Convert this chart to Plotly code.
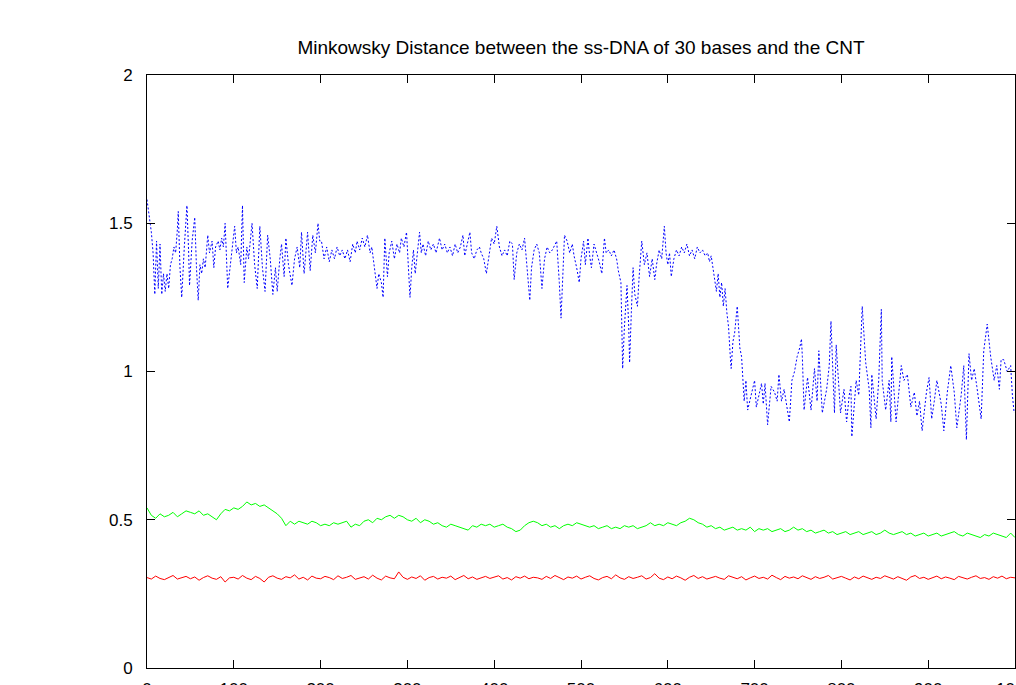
import plotly.graph_objects as go

# ---------------- data ----------------
title_text = "Minkowsky Distance between the ss-DNA of 30 bases and the CNT"

step_x = list(range(0, 1001, 5))

red_vals = [
    0.305, 0.300, 0.310, 0.302, 0.298, 0.306, 0.312, 0.300, 0.304, 0.309,
    0.301, 0.307, 0.296, 0.305, 0.311, 0.303, 0.299, 0.308, 0.290, 0.304,
    0.306, 0.300, 0.312, 0.303, 0.298, 0.309, 0.302, 0.290, 0.306, 0.311,
    0.303, 0.299, 0.308, 0.304, 0.314, 0.300, 0.306, 0.297, 0.310, 0.303,
    0.301, 0.309, 0.305, 0.298, 0.311, 0.302, 0.306, 0.312, 0.299, 0.304,
    0.308, 0.300, 0.313, 0.303, 0.297, 0.310, 0.304, 0.301, 0.324, 0.306,
    0.299, 0.307, 0.302, 0.311, 0.296, 0.305, 0.309, 0.300, 0.306, 0.303,
    0.310, 0.298, 0.305, 0.312, 0.301, 0.307, 0.299, 0.304, 0.309, 0.302,
    0.306, 0.311, 0.300, 0.305, 0.297, 0.308, 0.303, 0.310, 0.301, 0.306,
    0.304, 0.299, 0.309, 0.302, 0.312, 0.305, 0.298, 0.307, 0.303, 0.310,
    0.300, 0.306, 0.311, 0.302, 0.297, 0.305, 0.309, 0.301, 0.314, 0.304,
    0.299, 0.308, 0.302, 0.306, 0.311, 0.300, 0.305, 0.318, 0.303, 0.298,
    0.307, 0.301, 0.310, 0.304, 0.296, 0.306, 0.312, 0.302, 0.308, 0.300,
    0.305, 0.309, 0.303, 0.299, 0.311, 0.306, 0.301, 0.308, 0.297, 0.304,
    0.310, 0.302, 0.306, 0.300, 0.313, 0.305, 0.298, 0.309, 0.303, 0.307,
    0.301, 0.311, 0.304, 0.299, 0.308, 0.302, 0.306, 0.312, 0.300, 0.305,
    0.309, 0.303, 0.297, 0.307, 0.301, 0.310, 0.304, 0.299, 0.306, 0.302,
    0.311, 0.305, 0.300, 0.308, 0.303, 0.296, 0.307, 0.312, 0.302, 0.306,
    0.299, 0.305, 0.310, 0.301, 0.307, 0.303, 0.298, 0.309, 0.304, 0.300,
    0.306, 0.311, 0.302, 0.305, 0.299, 0.308, 0.303, 0.310, 0.301, 0.306,
    0.304,
]

green_vals = [
    0.540, 0.515, 0.505, 0.520, 0.510, 0.515, 0.525, 0.510, 0.520, 0.530,
    0.525, 0.520, 0.530, 0.515, 0.520, 0.510, 0.500, 0.520, 0.535, 0.530,
    0.540, 0.535, 0.545, 0.560, 0.550, 0.555, 0.545, 0.550, 0.540, 0.530,
    0.520, 0.505, 0.480, 0.495, 0.485, 0.495, 0.490, 0.485, 0.495, 0.490,
    0.480, 0.485, 0.480, 0.490, 0.485, 0.490, 0.495, 0.475, 0.485, 0.480,
    0.495, 0.500, 0.490, 0.505, 0.500, 0.510, 0.515, 0.505, 0.515, 0.510,
    0.500, 0.495, 0.505, 0.490, 0.500, 0.495, 0.485, 0.490, 0.480, 0.475,
    0.485, 0.480, 0.475, 0.470, 0.465, 0.480, 0.475, 0.485, 0.480, 0.485,
    0.475, 0.480, 0.485, 0.475, 0.470, 0.460, 0.465, 0.480, 0.490, 0.495,
    0.490, 0.480, 0.485, 0.475, 0.480, 0.470, 0.480, 0.485, 0.480, 0.490,
    0.485, 0.480, 0.475, 0.480, 0.470, 0.475, 0.480, 0.470, 0.475, 0.470,
    0.480, 0.475, 0.480, 0.470, 0.475, 0.480, 0.490, 0.480, 0.485, 0.480,
    0.490, 0.485, 0.480, 0.490, 0.495, 0.505, 0.500, 0.490, 0.485, 0.475,
    0.480, 0.470, 0.475, 0.465, 0.470, 0.475, 0.465, 0.470, 0.465, 0.475,
    0.460, 0.470, 0.465, 0.470, 0.460, 0.465, 0.470, 0.460, 0.465, 0.475,
    0.465, 0.470, 0.460, 0.465, 0.455, 0.460, 0.465, 0.455, 0.460, 0.450,
    0.455, 0.460, 0.450, 0.455, 0.460, 0.450, 0.455, 0.460, 0.450, 0.455,
    0.465, 0.455, 0.450, 0.455, 0.460, 0.450, 0.455, 0.445, 0.450, 0.455,
    0.445, 0.450, 0.455, 0.445, 0.450, 0.455, 0.460, 0.450, 0.445, 0.455,
    0.450, 0.445, 0.440, 0.450, 0.445, 0.455, 0.450, 0.445, 0.440, 0.455,
    0.440,
]

blue_x = [
    0, 1, 3, 5, 7, 9, 11, 13, 15, 17, 19, 21, 23, 25, 27, 29, 31, 33, 35, 36,
    38, 40, 43, 46, 48, 49, 52, 55, 57, 59, 61, 63, 65, 67, 70, 72, 75, 77, 79, 82,
    84, 86, 88, 90, 93, 96, 98, 101, 103, 105, 108, 110, 112, 115, 117, 119, 121, 124, 127, 130,
    133, 136, 139, 142, 145, 148, 150, 153, 155, 158, 160, 163, 167, 170, 173, 176, 178, 181, 185, 188,
    191, 194, 197, 199, 201, 204, 207, 210, 213, 216, 219, 222, 225, 228,
    231, 234, 237, 240, 242, 245, 248, 251, 254, 257, 259, 262, 265, 267, 270, 272, 274, 277, 279, 282,
    285, 288, 291, 293, 296, 299, 301, 303, 305, 307, 309, 311, 314, 316, 318, 321, 324, 327, 330, 333,
    337, 340, 343, 346, 349, 352, 355, 358, 361, 364, 366, 369, 372, 374, 377, 380, 383, 385, 388, 391,
    394, 397, 400, 403, 406, 409, 412, 415, 418, 421, 423, 426, 429, 432, 435, 437, 439, 441, 443, 446,
    449, 452, 455, 458, 461, 464, 467, 470, 472, 475, 477, 479, 481, 484, 487, 490, 492, 495, 498, 500,
    503, 505, 508, 510, 512, 515, 518, 521, 524, 527, 529, 532, 535, 538, 541, 543, 546, 548, 550, 553,
    555, 556, 558, 560, 562, 565, 567, 570, 573, 576, 579, 582, 585, 587, 590, 593, 596, 598, 600, 602,
    604, 607, 610, 613, 616, 619, 622, 625, 628, 631, 634, 637, 640, 643, 646, 648, 650, 652, 654, 656,
    658, 660, 662, 664, 666, 668, 670, 672, 673, 675, 677, 680, 683, 685, 688, 690, 692, 696, 700, 702,
    705, 708, 710, 712, 715, 719, 723, 726, 728, 731, 734, 737, 740, 743, 746, 749, 752, 754, 755, 757,
    761, 765, 769, 772, 774, 778, 783, 786, 788, 789, 792, 794, 797, 799, 803, 806, 809, 811, 812, 817,
    820, 824, 828, 832, 834, 835, 840, 843, 846, 847, 851, 855, 857, 858, 863, 866, 869, 872, 876, 880,
    884, 887, 890, 893, 898, 901, 904, 907, 910, 915, 918, 922, 926, 930, 933, 938, 941, 944, 947, 950,
    953, 956, 961, 964, 968, 972, 976, 979, 982, 984, 987, 991, 995, 997, 999,
]

blue_vals = [
    1.58, 1.56, 1.52, 1.47, 1.40, 1.26, 1.44, 1.28, 1.43, 1.26, 1.33, 1.27, 1.33, 1.28, 1.36, 1.38, 1.42, 1.40, 1.48, 1.54,
    1.35, 1.25, 1.42, 1.56, 1.40, 1.29, 1.44, 1.52, 1.35, 1.24, 1.36, 1.33, 1.38, 1.35, 1.46, 1.40, 1.44, 1.35, 1.42, 1.44,
    1.41, 1.45, 1.42, 1.50, 1.28, 1.36, 1.39, 1.49, 1.40, 1.42, 1.36, 1.56, 1.30, 1.42, 1.38, 1.43, 1.50, 1.36, 1.28, 1.49,
    1.35, 1.27, 1.46, 1.38, 1.26, 1.35, 1.27, 1.38, 1.43, 1.32, 1.45, 1.36, 1.29, 1.38, 1.42, 1.35, 1.47, 1.33, 1.47, 1.34,
    1.46, 1.40, 1.50, 1.44, 1.44, 1.38, 1.42, 1.37, 1.41, 1.38, 1.42, 1.39, 1.41, 1.38,
    1.41, 1.37, 1.43, 1.40, 1.44, 1.41, 1.45, 1.42, 1.46, 1.40, 1.42, 1.35, 1.28, 1.33, 1.30, 1.25, 1.45, 1.32, 1.40, 1.44,
    1.38, 1.43, 1.40, 1.45, 1.42, 1.47, 1.36, 1.25, 1.35, 1.41, 1.33, 1.38, 1.47, 1.40, 1.43, 1.39, 1.44, 1.41, 1.43, 1.40,
    1.45, 1.41, 1.43, 1.40, 1.42, 1.39, 1.43, 1.40, 1.42, 1.46, 1.39, 1.43, 1.47, 1.40, 1.38, 1.41, 1.42, 1.40, 1.38, 1.33,
    1.40, 1.45, 1.43, 1.49, 1.42, 1.39, 1.41, 1.39, 1.44, 1.43, 1.31, 1.40, 1.43, 1.41, 1.45, 1.38, 1.30, 1.24, 1.35, 1.41,
    1.43, 1.40, 1.28, 1.38, 1.42, 1.40, 1.41, 1.43, 1.44, 1.30, 1.18, 1.32, 1.46, 1.44, 1.40, 1.43, 1.39, 1.35, 1.30, 1.38,
    1.44, 1.36, 1.45, 1.39, 1.35, 1.43, 1.40, 1.37, 1.33, 1.45, 1.40, 1.41, 1.39, 1.41, 1.38, 1.34, 1.30, 1.01, 1.15, 1.29,
    1.15, 1.03, 1.20, 1.35, 1.26, 1.22, 1.32, 1.44, 1.36, 1.40, 1.32, 1.38, 1.31, 1.36, 1.41, 1.38, 1.49, 1.40, 1.36, 1.40,
    1.32, 1.38, 1.41, 1.39, 1.42, 1.40, 1.43, 1.39, 1.41, 1.38, 1.42, 1.40, 1.41, 1.39, 1.40, 1.37, 1.39, 1.34, 1.31, 1.27,
    1.33, 1.25, 1.30, 1.22, 1.28, 1.20, 1.15, 1.05, 1.01, 1.10, 1.13, 1.22, 1.08, 1.05, 0.90, 0.97, 0.87, 0.92, 0.97, 0.88,
    0.92, 0.96, 0.89, 0.96, 0.82, 0.95, 0.93, 0.90, 0.99, 0.90, 0.94, 0.88, 0.83, 0.97, 1.00, 1.05, 1.08, 1.11, 1.05, 0.87,
    0.98, 0.87, 1.01, 0.90, 1.07, 0.86, 0.94, 1.02, 1.17, 1.09, 0.86, 1.09, 0.97, 0.86, 0.94, 0.83, 0.92, 0.95, 0.78, 0.97,
    0.92, 1.22, 1.03, 0.94, 0.81, 0.99, 0.84, 0.97, 1.21, 0.97, 0.87, 0.97, 0.83, 1.05, 0.83, 0.94, 1.02, 0.97, 0.99, 0.88,
    0.93, 0.85, 0.90, 0.80, 0.93, 0.98, 0.84, 0.90, 0.97, 0.89, 0.80, 0.93, 1.02, 0.93, 0.81, 0.92, 1.02, 0.77, 1.06, 0.97,
    1.01, 0.95, 0.84, 1.07, 1.16, 1.05, 0.97, 1.02, 0.94, 1.04, 1.04, 1.00, 1.02, 0.92, 0.86,
]

x_ticks = [0, 100, 200, 300, 400, 500, 600, 700, 800, 900, 1000]
y_ticks = [0, 0.5, 1, 1.5, 2]
y_tick_text = ["0", "0.5", "1", "1.5", "2"]

# ---------------- figure ----------------
FONT = "Liberation Sans, Arial, Helvetica, sans-serif"

fig = go.Figure()
fig.add_trace(go.Scatter(x=step_x, y=red_vals, mode="lines",
                         line=dict(color="#ff0000", width=1), showlegend=False))
fig.add_trace(go.Scatter(x=step_x, y=green_vals, mode="lines",
                         line=dict(color="#00ff00", width=1), showlegend=False))
fig.add_trace(go.Scatter(x=blue_x, y=blue_vals, mode="lines",
                         line=dict(color="#0000ff", width=1, dash="2px,2px"),
                         showlegend=False))

axis_common = dict(
    showgrid=False, zeroline=False, showline=True, linecolor="#000000", linewidth=1,
    mirror="ticks", ticks="inside", ticklen=8, tickwidth=1, tickcolor="#000000",
    tickfont=dict(family=FONT, size=17, color="#000000"),
    automargin=False, ticklabeloverflow="allow",
)

fig.update_layout(
    width=1016, height=685,
    margin=dict(l=147, r=1, t=75, b=17, autoexpand=False),
    paper_bgcolor="white", plot_bgcolor="white",
    title=dict(text=title_text, x=0.5, xref="paper", y=1 - 47 / 685, yref="container",
               xanchor="center", yanchor="middle",
               font=dict(family=FONT, size=19, color="#000000")),
    xaxis=dict(range=[0, 1000], tickvals=x_ticks, ticklabelstandoff=6, **axis_common),
    yaxis=dict(range=[0, 2], tickvals=y_ticks, ticktext=y_tick_text,
               ticklabelstandoff=10, **axis_common),
)

fig.write_html("out.html")
